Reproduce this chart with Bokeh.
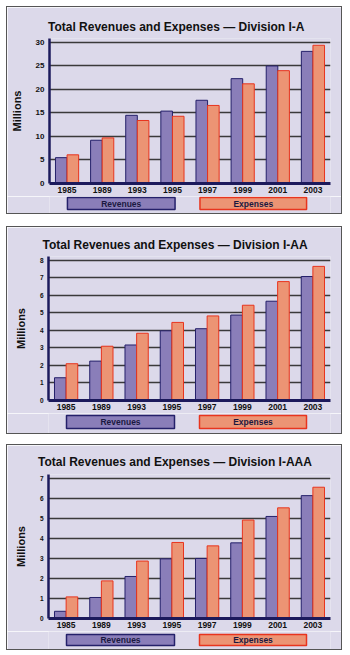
from bokeh.plotting import figure
from bokeh.layouts import column
from bokeh.models import ColumnDataSource, FactorRange, Range1d, FixedTicker
from bokeh.core.properties import value
from bokeh.transform import dodge
from bokeh.embed import file_html
from bokeh.resources import INLINE

# ---- data ----
years = ["1985", "1989", "1993", "1995", "1997", "1999", "2001", "2003"]
titles = [
    "Total Revenues and Expenses \u2014 Division I-A",
    "Total Revenues and Expenses \u2014 Division I-AA",
    "Total Revenues and Expenses \u2014 Division I-AAA",
]
ia_revenues = [5.5, 9.2, 14.5, 15.4, 17.7, 22.3, 25.0, 28.1]
ia_expenses = [6.1, 9.7, 13.4, 14.3, 16.6, 21.2, 24.0, 29.4]
iaa_revenues = [1.3, 2.25, 3.17, 3.98, 4.1, 4.88, 5.67, 7.08]
iaa_expenses = [2.1, 3.1, 3.84, 4.46, 4.83, 5.44, 6.79, 7.66]
iaaa_revenues = [0.36, 1.05, 2.1, 2.98, 3.0, 3.78, 5.1, 6.14]
iaaa_expenses = [1.08, 1.88, 2.87, 3.8, 3.63, 4.92, 5.53, 6.56]
y_max = [30, 8, 7]
y_step = [5, 1, 1]
series_names = ["Revenues", "Expenses"]

BG = "#dcd9ea"
REV = "#8a7eb9"
REV_LINE = "#24206a"
EXP = "#ec9474"
EXP_LINE = "#e8341e"
NAVY = "#1c1a5c"
FONT = "Liberation Sans"
W = 334
ML, MR = 41, 11
FW = W - ML - MR  # frame width

# per panel: top margin, min_border_top, main height, title offset, title standoff,
# legend strip height, legend box top/bottom (from strip top), y tick font size
params = [
    (7, 31, 189, -1.5, 10, 17, 1, 13, "8px"),
    (14, 29, 186, -6, 10, 20, 2, 15, "6.5px"),
    (12, 29, 186, -10.4, 11, 18, 3, 14, "6.5px"),
]
datasets = [
    (ia_revenues, ia_expenses),
    (iaa_revenues, iaa_expenses),
    (iaaa_revenues, iaaa_expenses),
]

panels = []
for i in range(3):
    rev, exp = datasets[i]
    mtop, mbt, mh, toff, tstand, lh, lb_top, lb_bot, tick_fs = params[i]

    # --- main chart ---
    src = ColumnDataSource(dict(year=years, rev=rev, exp=exp))
    ytop = y_max[i] * 1.028
    p = figure(width=W, height=mh, x_range=FactorRange(*years), y_range=Range1d(0, ytop),
               output_backend="svg", toolbar_location=None,
               min_border_left=ML, min_border_right=MR, min_border_top=mbt, min_border_bottom=13,
               background_fill_color=BG, border_fill_color=BG, outline_line_color=None)
    p.title.text = titles[i]
    p.title.align = "left"
    p.title.offset = toff
    p.title.standoff = tstand
    p.title.text_font = FONT
    p.title.text_font_style = "bold"
    p.title.text_font_size = "12px"
    p.title.text_color = "#111111"

    p.vbar(x=dodge("year", -0.165, range=p.x_range), top="rev", width=0.33, source=src,
           fill_color=REV, line_color=REV_LINE, line_width=1)
    p.vbar(x=dodge("year", 0.165, range=p.x_range), top="exp", width=0.33, source=src,
           fill_color=EXP, line_color=EXP_LINE, line_width=1)

    ticks = list(range(0, y_max[i] + 1, y_step[i]))
    p.xgrid.grid_line_color = None
    p.ygrid.grid_line_color = "#3a3a3a"
    p.ygrid.grid_line_width = 1.3
    p.ygrid.ticker = FixedTicker(ticks=ticks)

    for ax in (p.xaxis[0], p.yaxis[0]):
        ax.axis_line_color = NAVY
        ax.major_tick_line_color = None
        ax.minor_tick_line_color = None
        ax.major_tick_out = 0
        ax.major_tick_in = 0
        ax.minor_tick_out = 0
        ax.minor_tick_in = 0
        ax.major_label_text_font = FONT
        ax.major_label_text_font_style = "bold"
        ax.major_label_text_color = "#111111"

    p.yaxis.ticker = FixedTicker(ticks=ticks)
    p.yaxis.axis_line_width = 2.5
    p.yaxis.major_label_text_font_size = tick_fs
    p.yaxis.major_label_standoff = 5
    p.yaxis.axis_label = "Millions"
    p.yaxis.axis_label_text_font = FONT
    p.yaxis.axis_label_text_font_style = "bold"
    p.yaxis.axis_label_text_font_size = "11px"
    p.yaxis.axis_label_text_color = "#111111"
    p.yaxis.axis_label_standoff = 10

    p.xaxis.axis_line_width = 3
    p.xaxis.major_label_text_font_size = "8.5px"
    p.xaxis.major_label_standoff = 3

    # --- legend strip (its frame is aligned with the chart frame) ---
    lg = figure(width=W, height=lh, x_range=Range1d(0, FW), y_range=Range1d(0, lh),
                output_backend="svg", toolbar_location=None, x_axis_type=None, y_axis_type=None,
                min_border_left=ML, min_border_right=MR, min_border_top=0, min_border_bottom=0,
                background_fill_color=BG, border_fill_color=BG, outline_line_color=None)
    lg.xgrid.visible = False
    lg.ygrid.visible = False
    leg = ColumnDataSource(dict(
        name=series_names,
        left=[18, 151], right=[126, 258],
        fill=[REV, EXP], line=[REV_LINE, EXP_LINE],
    ))
    lg.quad(left="left", right="right", bottom=lh - lb_bot, top=lh - lb_top, source=leg,
            fill_color="fill", line_color="line", line_width=1.5)
    lg.text(x=[72, 204.5], y=[lh - (lb_top + lb_bot) / 2] * 2, text=series_names,
            text_align="center", text_baseline="middle", text_font_size="8.5px",
            text_font_style="bold", text_color="#1a1840", text_font=value(FONT))

    panel = column(p, lg, spacing=0, margin=(mtop, 0, 0, 7))
    panel.styles = {"outline": "1px solid #555555"}
    panels.append(panel)

layout = column(*panels, spacing=0)
open("out.html", "w").write(file_html(layout, INLINE))
